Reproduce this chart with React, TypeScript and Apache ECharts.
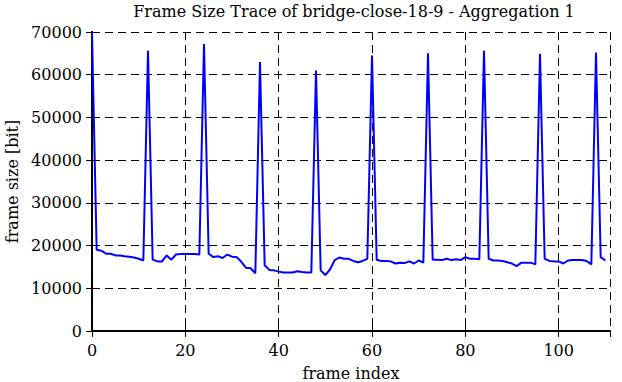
import React, { useEffect, useRef } from "react";
import * as echarts from "echarts";

const frameIndex: number[] = [
  0, 1, 2, 3, 4, 5, 6, 7, 8, 9, 10, 11, 12, 13, 14, 15, 16, 17, 18, 19, 20,
  21, 22, 23, 24, 25, 26, 27, 28, 29, 30, 31, 32, 33, 34, 35, 36, 37, 38, 39, 40,
  41, 42, 43, 44, 45, 46, 47, 48, 49, 50, 51, 52, 53, 54, 55, 56, 57, 58, 59, 60,
  61, 62, 63, 64, 65, 66, 67, 68, 69, 70, 71, 72, 73, 74, 75, 76, 77, 78, 79, 80,
  81, 82, 83, 84, 85, 86, 87, 88, 89, 90, 91, 92, 93, 94, 95, 96, 97, 98, 99, 100,
  101, 102, 103, 104, 105, 106, 107, 108, 109, 110,
];

const frameSize: number[] = [
  69800, 19000, 18800, 18100, 18100, 17700, 17700, 17500, 17400, 17200, 16900,
  16500, 65600, 16700, 16300, 16300, 17700, 16700, 17900, 18000, 18000,
  18000, 18000, 17900, 67200, 18100, 17300, 17500, 17100, 17900, 17400,
  17300, 16200, 14800, 14700, 13500, 63000, 15400, 14300, 14200, 13900,
  13700, 13700, 13700, 14000, 13800, 13700, 13700, 61000, 14200, 13100,
  14400, 16600, 17200, 16900, 16900, 16400, 16100, 16400, 16900, 64500,
  16700, 16400, 16400, 16300, 15800, 16000, 15900, 16300, 15800, 16500,
  16000, 65000, 16700, 16700, 16600, 16900, 16600, 16800, 16600, 17300,
  16900, 16900, 16800, 65600, 16900, 16500, 16500, 16400, 16100, 15800,
  15200, 16000, 16000, 16000, 15600, 64900, 16900, 16400, 16300, 16300,
  15800, 16500, 16600, 16600, 16600, 16400, 15600, 65200, 17300, 16500,
];

const titleText = "Frame Size Trace of bridge-close-18-9 - Aggregation 1";
const xName = "frame index";
const yName = "frame size [bit]";

const FONT = "DejaVu Serif";

export default function App() {
  const ref = useRef<HTMLDivElement>(null);

  useEffect(() => {
    if (!ref.current) return;
    const chart = echarts.init(ref.current, null, { renderer: "svg" });
    const data = frameIndex.map((x, i) => [x, frameSize[i]]);
    const tickStyle = { show: true, inside: true, length: 6, lineStyle: { color: "#000", width: 1 } };
    const lineStyle = { show: true, lineStyle: { color: "#000", width: 2 } };
    const gridLine = { show: true, lineStyle: { color: "#000", width: 1, type: [8, 5] as any } };
    const label = {
      color: "#000",
      fontFamily: FONT,
      fontSize: 16,
      formatter: (v: number) => String(v),
    };
    const nameStyle = { color: "#000", fontFamily: FONT, fontSize: 16 };

    chart.setOption({
      animation: false,
      backgroundColor: "#fff",
      textStyle: { fontFamily: FONT },
      title: {
        text: titleText,
        left: 349,
        top: -2,
        textAlign: "center",
        textStyle: { color: "#000", fontFamily: FONT, fontSize: 16, fontWeight: "normal" },
      },
      grid: { left: 92, right: 12, top: 32, bottom: 51, containLabel: false, outerBoundsMode: "none" },
      xAxis: [
        {
          type: "value",
          min: 0,
          max: 111,
          interval: 20,
          position: "bottom",
          axisLine: lineStyle,
          axisTick: tickStyle,
          axisLabel: { ...label, margin: 11, showMaxLabel: false },
          splitLine: gridLine,
          name: xName,
          nameLocation: "middle",
          nameGap: 34,
          nameTextStyle: nameStyle,
        },
        {
          type: "value",
          min: 0,
          max: 111,
          interval: 20,
          position: "top",
          axisLine: lineStyle,
          axisTick: tickStyle,
          axisLabel: { show: false },
          splitLine: { show: false },
        },
      ],
      yAxis: [
        {
          type: "value",
          min: 0,
          max: 70000,
          interval: 10000,
          position: "left",
          axisLine: lineStyle,
          axisTick: tickStyle,
          axisLabel: { ...label, margin: 10 },
          splitLine: gridLine,
          name: yName,
          nameLocation: "middle",
          nameGap: 70,
          nameTextStyle: nameStyle,
        },
        {
          type: "value",
          min: 0,
          max: 70000,
          interval: 10000,
          position: "right",
          axisLine: lineStyle,
          axisTick: tickStyle,
          axisLabel: { show: false },
          splitLine: { show: false },
        },
      ],
      series: [
        {
          type: "line",
          xAxisIndex: 0,
          yAxisIndex: 0,
          data,
          showSymbol: false,
          symbol: "none",
          lineStyle: { color: "#0000ff", width: 2 },
          clip: true,
        },
      ],
    });
    return () => chart.dispose();
  }, []);

  return (
    <div
      ref={ref}
      style={{ position: "fixed", left: 0, top: 0, width: 622, height: 382 }}
    />
  );
}
